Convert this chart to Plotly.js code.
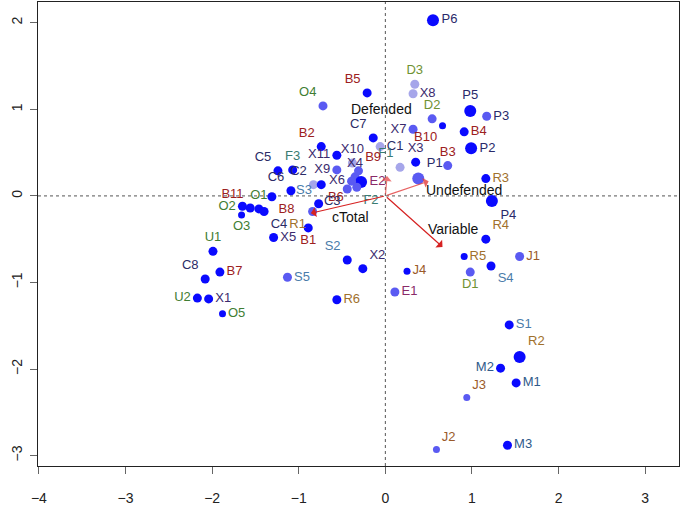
<!DOCTYPE html>
<html>
<head>
<meta charset="utf-8">
<script src="https://cdn.plot.ly/plotly-3.0.1.min.js"></script>
<style>
  html, body { margin: 0; padding: 0; background: #fff; }
  #plot { width: 680px; height: 506px; }
</style>
</head>
<body>
<div id="plot"></div>
<script>
// site scores
var labels = ['P6','D3','X8','B5','O4','P5','P3','D2','B10','X7','B4','C7','P2','C1','B2','X11','X10','X3','B3','F1',
  'C5','F3','X9','X4','B9','E2','C2','X6','B6','F2','C3','P1','R3','P4','C6','B8','B11','O2','O1','C4',
  'O3','S3','R1','B1','X5','U1','S2','X2','B7','C8','S5','J4','R5','R4','J1','S4','D1','E1','U2','X1',
  'R6','O5','S1','R2','M2','M1','J3','J2','M3'];
var xs = [0.55,0.34,0.32,-0.21,-0.72,0.98,1.17,0.54,0.66,0.32,0.91,-0.14,0.99,-0.06,-0.74,-0.56,-0.38,0.35,0.72,0.17,
  -1.24,-1.07,-0.56,-0.35,-0.31,-0.28,-0.83,-0.39,-0.74,-0.33,-0.44,0.38,1.16,1.23,-1.09,-1.31,-1.56,-1.65,-1.46,-1.40,
  -1.66,-0.77,-0.84,-0.89,-1.29,-1.99,-0.44,-0.26,-1.91,-2.08,-1.13,0.25,0.91,1.16,1.55,1.22,0.98,0.11,-2.17,-2.04,
  -0.56,-1.88,1.43,1.55,1.33,1.51,0.94,0.59,1.41];
var ys = [2.03,1.29,1.18,1.19,1.04,0.98,0.92,0.89,0.81,0.77,0.74,0.67,0.55,0.57,0.57,0.47,0.38,0.39,0.35,0.33,
  0.29,0.30,0.30,0.22,0.29,0.16,0.13,0.17,0.13,0.10,0.08,0.20,0.20,-0.06,0.06,-0.01,-0.14,-0.12,-0.15,-0.18,
  -0.22,-0.09,-0.18,-0.37,-0.48,-0.64,-0.74,-0.84,-0.88,-0.96,-0.94,-0.87,-0.70,-0.50,-0.70,-0.81,-0.88,-1.11,-1.18,-1.19,
  -1.20,-1.36,-1.49,-1.86,-1.99,-2.16,-2.33,-2.93,-2.88];
// point weight class (1 small, 2 normal, 3 large) and shade class (1 dark, 2 mid, 3 pale)
var weight = [3,2,2,2,2,3,2,2,1,2,2,2,3,2,2,2,2,2,2,2,
  2,2,2,2,2,3,2,2,2,2,2,3,2,3,2,2,2,2,2,2,
  1,2,2,2,2,2,2,2,2,2,2,1,1,2,2,2,2,2,2,2,
  2,1,2,3,2,2,1,1,2];
var shade = [1,3,3,1,2,1,2,2,1,2,1,1,1,3,1,1,3,1,2,3,
  1,1,2,2,2,1,3,2,1,2,2,2,1,1,1,1,1,1,1,1,
  1,1,2,1,1,1,1,1,1,1,2,1,1,1,2,1,2,2,1,1,
  1,1,1,1,1,1,2,2,1];

// environmental vectors
var vecNames = ['Defended','Undefended','cTotal','Variable'];
var vecX = [0.02, 0.50, -0.86, 0.66];
var vecY = [0.23, 0.17, -0.20, -0.59];

var groupColor = {
  B: '#9c2020', C: '#2b2b66', X: '#3a2a6e', P: '#2a2a6a', D: '#6f9232',
  O: '#3f7d33', U: '#3f7d33', F: '#3a7b72', R: '#a0702c', J: '#9a5a2a',
  S: '#4a7caa', M: '#2f5a8a', E: '#8a2a68'
};
var shadeColor = {1: '#0a0aff', 2: '#5a5af2', 3: '#a6a6ea'};
var weightSize = {1: 7, 2: 9, 3: 12};
var pos = {
  P6:'middle right', D3:'top center', X8:'middle right', B5:'top left', O4:'top left', P5:'top center',
  P3:'middle right', D2:'top center', B10:'bottom left', X7:'middle left', B4:'middle right', C7:'top left',
  P2:'middle right', C1:'middle right', B2:'top left', X11:'middle left', X10:'top center', X3:'top center',
  B3:'top center', F1:'top left', C5:'top left', F3:'top center', X9:'middle left', X4:'top center',
  B9:'top right', E2:'middle right', C2:'top left', X6:'middle left', B6:'bottom right', F2:'bottom right',
  C3:'bottom left', P1:'top right', R3:'middle right', P4:'bottom right', C6:'top left', B8:'bottom right',
  B11:'top left', O2:'middle left', O1:'top center', C4:'bottom right', O3:'bottom center', S3:'top left',
  R1:'bottom left', B1:'bottom center', X5:'middle right', U1:'top center', S2:'top left', X2:'top right',
  B7:'middle right', C8:'top left', S5:'middle right', J4:'middle right', R5:'middle right', R4:'top right',
  J1:'middle right', S4:'bottom right', D1:'bottom center', E1:'middle right', U2:'middle left', X1:'middle right',
  R6:'middle right', O5:'middle right', S1:'middle right', R2:'top right', M2:'middle left', M1:'middle right',
  J3:'top right', J2:'top right', M3:'middle right'
};

var sites = {
  x: xs, y: ys, text: labels,
  type: 'scatter', mode: 'markers+text',
  textposition: labels.map(function (l) { return pos[l]; }),
  textfont: {family: 'Liberation Sans, Arial, sans-serif', size: 13,
    color: labels.map(function (l) { return groupColor[l.charAt(0)]; })},
  marker: {
    size: weight.map(function (w) { return weightSize[w]; }),
    color: shade.map(function (s) { return shadeColor[s]; }),
    opacity: 1,
    line: {width: 0}
  },
  hoverinfo: 'text', cliponaxis: false
};

var vecColor = ['rgba(226,60,60,0.7)', 'rgba(226,60,60,0.8)', '#d62222', '#d62222'];
var vecLabelX = [-0.04, 0.91, -0.40, 0.79];
var vecLabelY = [1.00, 0.07, -0.24, -0.38];

var annotations = [];
vecNames.forEach(function (n, i) {
  annotations.push({
    x: vecX[i], y: vecY[i], ax: 0, ay: 0, axref: 'x', ayref: 'y', xref: 'x', yref: 'y',
    text: '', showarrow: true, arrowhead: 1, arrowsize: 1.4, arrowwidth: 1.2, arrowcolor: vecColor[i]
  });
  annotations.push({
    x: vecLabelX[i], y: vecLabelY[i], xref: 'x', yref: 'y', text: n, showarrow: false,
    font: {family: 'Liberation Sans, Arial, sans-serif', size: 14, color: '#111'}
  });
});

var layout = {
  width: 680, height: 506,
  margin: {l: 38, r: 1, t: 2, b: 40},
  paper_bgcolor: '#fff', plot_bgcolor: '#fff',
  showlegend: false,
  font: {family: 'Liberation Sans, Arial, sans-serif', size: 14, color: '#222'},
  xaxis: {
    range: [-4.01, 3.39], tickvals: [-4, -3, -2, -1, 0, 1, 2, 3],
    ticktext: ['\u22124', '\u22123', '\u22122', '\u22121', '0', '1', '2', '3'],
    showgrid: false, zeroline: false, showline: true, mirror: true, linecolor: '#222', linewidth: 1,
    ticks: 'outside', ticklen: 7, tickcolor: '#666', ticklabelstandoff: 12
  },
  yaxis: {
    range: [-3.12, 2.24], tickvals: [-3, -2, -1, 0, 1, 2],
    ticktext: ['\u22123', '\u22122', '\u22121', '0', '1', '2'],
    tickangle: -90,
    showgrid: false, zeroline: false, showline: true, mirror: true, linecolor: '#222', linewidth: 1,
    ticks: 'outside', ticklen: 7, tickcolor: '#666', ticklabelstandoff: 2
  },
  shapes: [
    {type: 'line', xref: 'x', yref: 'paper', x0: 0, x1: 0, y0: 0, y1: 1,
      line: {color: '#555', width: 1, dash: 'dot'}, layer: 'below'},
    {type: 'line', xref: 'paper', yref: 'y', x0: 0, x1: 1, y0: 0, y1: 0,
      line: {color: '#555', width: 1, dash: 'dot'}, layer: 'below'}
  ],
  annotations: annotations
};

Plotly.newPlot('plot', [sites], layout, {displayModeBar: false, staticPlot: true});
</script>
</body>
</html>
